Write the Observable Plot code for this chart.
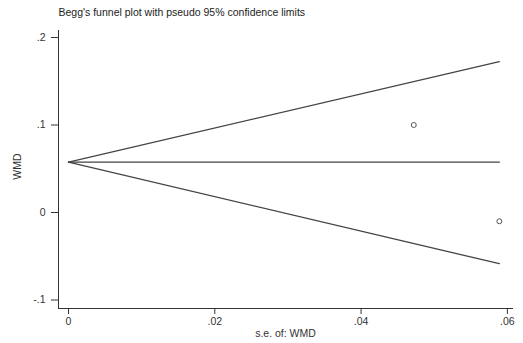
<!DOCTYPE html>
<html>
<head>
<meta charset="utf-8">
<script src="https://cdn.jsdelivr.net/npm/d3@7"></script>
<script src="https://cdn.jsdelivr.net/npm/@observablehq/plot@0.6"></script>
<style>
  html, body { margin: 0; padding: 0; background: #fff; }
  #chart svg { display: block; }
</style>
</head>
<body>
<div id="chart"></div>
<script>
// Study points
const studySe = [0.0472, 0.0589];
const studyWmd = [0.100, -0.010];

// Funnel (pseudo 95% limits)
const funnelSe = [0, 0.0589];
const funnelCenter = [0.0575, 0.0575];
const funnelUpper = [0.0575, 0.1725];
const funnelLower = [0.0575, -0.0585];

// Ticks
const xTicks = [0, 0.02, 0.04, 0.06];
const xTickLabels = ["0", ".02", ".04", ".06"];
const yTicks = [-0.1, 0, 0.1, 0.2];
const yTickLabels = ["-.1", "0", ".1", ".2"];

const titleText = "Begg's funnel plot with pseudo 95% confidence limits";
const xLabel = "s.e. of: WMD";
const yLabel = "WMD";

const points = studySe.map((s, i) => ({se: s, wmd: studyWmd[i]}));
const lines = [];
for (const [name, arr] of [["center", funnelCenter], ["upper", funnelUpper], ["lower", funnelLower]]) {
  funnelSe.forEach((s, i) => lines.push({series: name, se: s, wmd: arr[i]}));
}

const chart = Plot.plot({
  width: 523,
  height: 343,
  marginLeft: 58,
  marginRight: 11,
  marginTop: 30,
  marginBottom: 35,
  style: {fontFamily: "Liberation Sans, Arial, sans-serif", fontSize: "10.5px", color: "#333", background: "#fff"},
  x: {
    domain: [-0.00137, 0.0607],
    ticks: xTicks,
    tickFormat: (d) => xTickLabels[xTicks.findIndex(t => Math.abs(t - d) < 1e-9)],
    tickSize: 6,
    tickPadding: 3,
    line: true,
    label: null
  },
  y: {
    domain: [-0.1097, 0.208],
    ticks: yTicks,
    tickFormat: (d) => yTickLabels[yTicks.findIndex(t => Math.abs(t - d) < 1e-9)],
    tickSize: 7,
    tickPadding: 6,
    line: true,
    label: null
  },
  marks: [
    Plot.line(lines, {x: "se", y: "wmd", z: "series", stroke: "#444", strokeWidth: 1.3}),
    Plot.dot(points, {x: "se", y: "wmd", r: 2.5, stroke: "#555", strokeWidth: 1, fill: "none"}),
    Plot.text([titleText], {frameAnchor: "top-left", text: d => d, dx: 0, dy: -22, textAnchor: "start", fontSize: 10.5, fill: "#222"}),
    Plot.text([xLabel], {frameAnchor: "bottom", text: d => d, dy: 28, fontSize: 10.5, fill: "#333"}),
    Plot.text([yLabel], {frameAnchor: "left", text: d => d, dx: -41, dy: -3, rotate: -90, textAnchor: "middle", fontSize: 10.5, fill: "#333"})
  ]
});
document.getElementById("chart").appendChild(chart);
</script>
</body>
</html>
